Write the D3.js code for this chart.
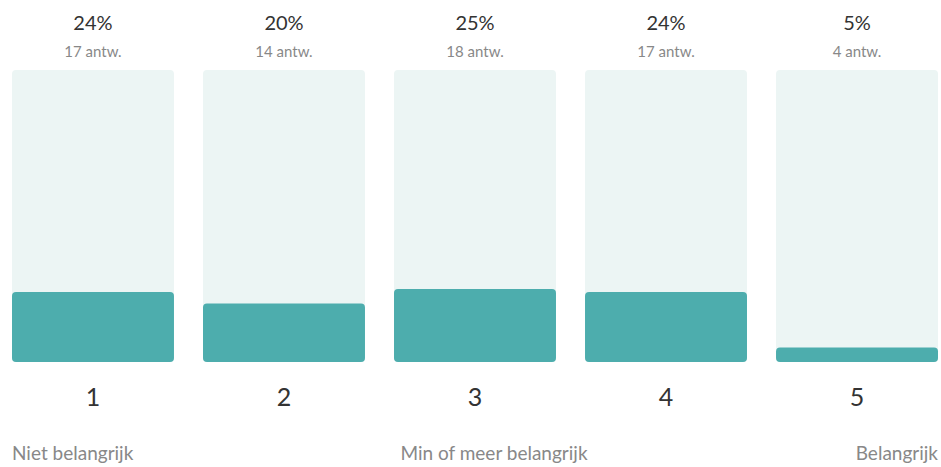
<!DOCTYPE html>
<html>
<head>
<meta charset="utf-8">
<script src="https://cdn.jsdelivr.net/npm/d3@7"></script>
<style>
  html, body { margin: 0; padding: 0; background: #fff; }
  svg { display: block; font-family: Lato, "Open Sans", sans-serif; }
</style>
</head>
<body>
<svg id="chart" width="941" height="467"></svg>
<script>
// Scale answers 1..5 with share of respondents and answer counts
const categories = ["1", "2", "3", "4", "5"];
const percents = [24, 20, 25, 24, 5];
const counts = [17, 14, 18, 17, 4];
const scaleLabels = ["Niet belangrijk", "Min of meer belangrijk", "Belangrijk"];

const svg = d3.select("#chart");
const barTop = 70, barBottom = 362;

const x = d3.scaleBand().domain(categories).range([12, 938]).paddingInner(0.152).paddingOuter(0);
const y = d3.scaleLinear().domain([0, 100]).range([barBottom, barTop]);

const data = categories.map((c, i) => ({ c, p: percents[i], n: counts[i] }));

const g = svg.append("g");
const col = g.selectAll("g.col").data(data).join("g").attr("class", "col");

// track
col.append("rect")
  .attr("x", d => x(d.c)).attr("width", x.bandwidth())
  .attr("y", y(100)).attr("height", y(0) - y(100))
  .attr("rx", 4).attr("fill", "#ecf5f4");

// value
col.append("rect")
  .attr("x", d => x(d.c)).attr("width", x.bandwidth())
  .attr("y", d => y(d.p)).attr("height", d => y(0) - y(d.p))
  .attr("rx", 4).attr("fill", "#4dadad");

col.append("text")
  .attr("x", d => x(d.c) + x.bandwidth() / 2).attr("y", 30)
  .attr("text-anchor", "middle").attr("font-size", 20).attr("fill", "#333")
  .text(d => d.p + "%");

col.append("text")
  .attr("x", d => x(d.c) + x.bandwidth() / 2).attr("y", 57)
  .attr("text-anchor", "middle").attr("font-size", 15).attr("fill", "#888")
  .text(d => d.n + " antw.");

// category axis
const axis = g.append("g").attr("transform", `translate(0,${barBottom})`)
  .call(d3.axisBottom(x).tickSize(0).tickPadding(26));
axis.select(".domain").remove();
axis.selectAll("text").attr("font-size", 25).attr("fill", "#333")
  .attr("font-family", "Lato, 'Open Sans', sans-serif").attr("dy", "0.71em");

// scale end labels
const lab = g.append("g").attr("font-size", 19).attr("fill", "#888");
lab.append("text").attr("x", 12).attr("y", 460).attr("text-anchor", "start").text(scaleLabels[0]);
lab.append("text").attr("x", 494).attr("y", 460).attr("text-anchor", "middle").text(scaleLabels[1]);
lab.append("text").attr("x", 938).attr("y", 460).attr("text-anchor", "end").text(scaleLabels[2]);
</script>
</body>
</html>
